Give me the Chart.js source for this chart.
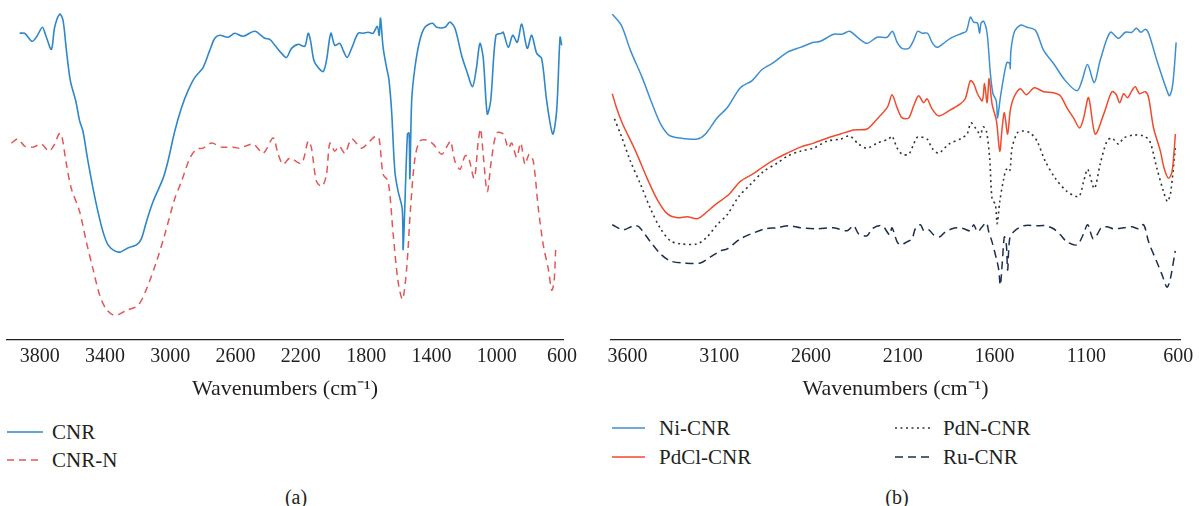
<!DOCTYPE html>
<html>
<head>
<meta charset="utf-8">
<script src="https://cdn.jsdelivr.net/npm/chart.js@4.4.1/dist/chart.umd.min.js"></script>
<style>
  body { margin: 0; background: #fff; width: 1199px; height: 506px; position: relative; overflow: hidden;
         font-family: 'Liberation Serif', 'Times New Roman', serif; color: #231f20; }
  .panel { position: absolute; top: 0; }
  .key { position: absolute; font-size: 21px; line-height: 24px; white-space: nowrap; }
  .key canvas { position: absolute; left: 0; top: 10px; }
  .key span { position: absolute; top: 0; }
  .caption { position: absolute; font-size: 20px; line-height: 24px; transform: translateX(-50%); }
</style>
</head>
<body>
<div class="panel" style="left:0; width:595px; height:402px"><canvas id="chartA"></canvas></div>
<div class="panel" style="left:598px; width:601px; height:402px"><canvas id="chartB"></canvas></div>
<div class="caption" style="left:296px; top:485px">(a)</div>
<div class="caption" style="left:897px; top:485px">(b)</div>

<script>
// ---- panel (a) ----
const ticksA = [3800, 3400, 3000, 2600, 2200, 1800, 1400, 1000, 600];

const cnrWavenumbers = [
  3923, 3892, 3847, 3817, 3783, 3763, 3728, 3708, 3677, 3657,
  3636, 3612, 3579, 3555, 3535, 3504, 3473, 3443, 3412, 3381,
  3340, 3305, 3259, 3207, 3177, 3146, 3105, 3044, 3014, 2972,
  2931, 2891, 2850, 2799, 2758, 2727, 2697, 2646, 2605, 2554,
  2482, 2421, 2390, 2359, 2318, 2288, 2257, 2217, 2176, 2155,
  2141, 2120, 2094, 2063, 2043, 2016, 1992, 1961, 1941, 1916,
  1889, 1849, 1818, 1788, 1757, 1732, 1720, 1712, 1696, 1675,
  1661, 1644, 1624, 1604, 1579, 1573, 1547, 1537, 1532, 1521,
  1501, 1471, 1440, 1393, 1368, 1317, 1287, 1256, 1215, 1185,
  1148, 1124, 1103, 1083, 1058, 1037, 1005, 970, 960, 929,
  902, 874, 847, 813, 786, 755, 725, 694, 657, 633,
  612, 602
];
const cnrValues = [
  304, 304, 296, 301, 310, 302, 288, 310, 323, 317,
  287, 257, 237, 217, 207, 177, 150, 127, 107, 94,
  88, 87, 91, 94, 100, 117, 137, 160, 177, 207,
  230, 247, 260, 270, 287, 299, 302, 300, 304, 301,
  306, 299, 298, 292, 284, 280, 289, 293, 291, 304,
  297, 277, 270, 266, 277, 304, 292, 294, 287, 280,
  289, 304, 304, 305, 304, 311, 302, 319, 290, 270,
  259, 227, 167, 147, 130, 90, 204, 205, 160, 237,
  270, 297, 310, 314, 310, 310, 315, 309, 282, 267,
  251, 270, 294, 280, 224, 237, 302, 304, 305, 290,
  302, 295, 313, 289, 302, 284, 279, 237, 204, 227,
  300, 292
];

const cnrNWavenumbers = [
  3973, 3933, 3892, 3841, 3790, 3743, 3708, 3682, 3667, 3636,
  3606, 3555, 3514, 3473, 3432, 3391, 3340, 3269, 3197, 3146,
  3085, 3034, 2972, 2931, 2880, 2839, 2799, 2747, 2686, 2615,
  2574, 2492, 2431, 2370, 2339, 2309, 2267, 2196, 2155, 2135,
  2104, 2070, 2043, 2022, 1992, 1965, 1930, 1889, 1828, 1777,
  1740, 1720, 1696, 1665, 1634, 1604, 1577, 1552, 1528, 1501,
  1471, 1430, 1389, 1338, 1297, 1282, 1256, 1225, 1195, 1175,
  1138, 1113, 1099, 1083, 1058, 1031, 1000, 960, 929, 908,
  878, 853, 827, 801, 776, 745, 715, 684, 663, 649,
  639
];
const cnrNValues = [
  195, 199, 192, 191, 194, 187, 194, 204, 204, 174,
  150, 127, 97, 70, 44, 30, 24, 29, 34, 50,
  77, 104, 140, 157, 180, 189, 190, 195, 191, 191,
  190, 194, 185, 200, 184, 174, 180, 175, 197, 190,
  157, 152, 164, 195, 187, 192, 185, 199, 190, 197,
  202, 199, 164, 157, 104, 57, 40, 70, 130, 180,
  197, 198, 194, 184, 194, 197, 177, 169, 182, 182,
  160, 197, 209, 184, 147, 180, 205, 204, 190, 195,
  181, 195, 174, 184, 177, 130, 94, 70, 49, 57,
  89
];

// ---- panel (b) ----
const ticksB = [3600, 3100, 2600, 2100, 1600, 1100, 600];

const niWavenumbers = [
  3683, 3634, 3584, 3520, 3466, 3420, 3375, 3311, 3220, 3175,
  3112, 3057, 2985, 2921, 2867, 2803, 2730, 2658, 2586, 2549,
  2477, 2431, 2390, 2341, 2295, 2240, 2186, 2157, 2131, 2104,
  2068, 2041, 2019, 1995, 1965, 1941, 1914, 1878, 1841, 1778,
  1754, 1732, 1714, 1693, 1682, 1674, 1660, 1641, 1623, 1609,
  1591, 1584, 1569, 1551, 1533, 1518, 1515, 1511, 1493, 1460,
  1424, 1378, 1333, 1279, 1215, 1151, 1124, 1094, 1057, 1025,
  970, 925, 888, 852, 828, 803, 779, 761, 716, 661,
  647, 629, 611
];
const niValues = [
  323, 312, 287, 260, 234, 214, 203, 200, 199, 204,
  220, 230, 250, 257, 268, 275, 285, 290, 295, 296,
  303, 303, 306, 299, 294, 300, 300, 306, 295, 289,
  289, 297, 306, 304, 304, 295, 290, 294, 299, 304,
  306, 320, 315, 314, 304, 314, 316, 304, 264, 244,
  237, 220, 240, 260, 275, 274, 269, 287, 305, 312,
  310, 307, 287, 274, 257, 247, 257, 273, 255, 277,
  305, 299, 305, 305, 309, 305, 308, 304, 277, 247,
  242, 254, 295
];

const pdclWavenumbers = [
  3683, 3660, 3629, 3556, 3493, 3438, 3384, 3329, 3275, 3220,
  3185, 3121, 3048, 2985, 2912, 2858, 2785, 2730, 2658, 2586,
  2495, 2440, 2368, 2295, 2240, 2183, 2159, 2131, 2104, 2068,
  2041, 2014, 1987, 1968, 1941, 1905, 1850, 1787, 1760, 1732,
  1714, 1693, 1667, 1655, 1641, 1630, 1614, 1590, 1572, 1559,
  1547, 1529, 1515, 1496, 1460, 1427, 1384, 1333, 1279, 1242,
  1206, 1170, 1137, 1115, 1088, 1052, 1005, 961, 937, 919,
  897, 876, 852, 834, 810, 779, 761, 734, 697, 675,
  652, 633, 615
];
const pdclValues = [
  244, 230, 215, 187, 160, 139, 125, 121, 122, 120,
  124, 134, 144, 157, 165, 172, 180, 185, 191, 195,
  201, 204, 208, 209, 219, 231, 243, 230, 220, 220,
  232, 242, 235, 239, 229, 222, 227, 234, 239, 257,
  254, 244, 237, 254, 235, 259, 234, 217, 187, 210,
  225, 204, 227, 240, 249, 243, 250, 246, 245, 242,
  230, 220, 210, 220, 240, 204, 224, 246, 243, 235,
  244, 240, 247, 251, 244, 246, 240, 210, 187, 169,
  160, 167, 204
];

const pdnWavenumbers = [
  3671, 3638, 3584, 3529, 3475, 3420, 3366, 3311, 3220, 3166,
  3112, 3057, 2994, 2930, 2858, 2785, 2730, 2658, 2586, 2513,
  2440, 2390, 2341, 2295, 2240, 2177, 2159, 2131, 2104, 2068,
  2041, 2019, 1968, 1941, 1905, 1850, 1778, 1750, 1729, 1705,
  1687, 1678, 1663, 1645, 1627, 1614, 1596, 1586, 1572, 1550,
  1536, 1518, 1505, 1477, 1450, 1406, 1369, 1324, 1269, 1205,
  1142, 1115, 1093, 1057, 1025, 988, 961, 925, 897, 843,
  788, 755, 716, 680, 658, 640, 616
];
const pdnValues = [
  219, 204, 177, 154, 130, 110, 98, 95, 95, 102,
  114, 124, 142, 154, 167, 175, 182, 187, 190, 197,
  199, 202, 194, 190, 195, 199, 202, 190, 184, 184,
  194, 201, 199, 190, 185, 194, 200, 204, 215, 210,
  205, 201, 211, 207, 180, 140, 134, 115, 137, 160,
  169, 167, 190, 205, 207, 205, 197, 177, 160, 147,
  142, 157, 169, 150, 174, 197, 200, 194, 200, 203,
  202, 197, 170, 147, 137, 147, 190
];

const ruWavenumbers = [
  3683, 3623, 3566, 3538, 3475, 3420, 3366, 3293, 3203, 3148,
  3094, 3057, 2985, 2912, 2849, 2785, 2722, 2658, 2567, 2477,
  2404, 2368, 2341, 2295, 2268, 2213, 2172, 2159, 2131, 2113,
  2077, 2050, 2032, 2004, 1986, 1959, 1932, 1899, 1868, 1832,
  1796, 1768, 1732, 1714, 1693, 1668, 1645, 1632, 1614, 1590,
  1578, 1569, 1558, 1547, 1536, 1529, 1518, 1496, 1442, 1369,
  1324, 1279, 1242, 1206, 1151, 1118, 1093, 1064, 1042, 1019,
  988, 952, 897, 852, 816, 788, 761, 716, 689, 661,
  643, 616
];
const ruValues = [
  114, 109, 113, 112, 97, 85, 78, 76, 76, 82,
  88, 90, 100, 106, 110, 111, 113, 111, 110, 111,
  108, 113, 105, 103, 110, 113, 104, 111, 97, 94,
  97, 100, 110, 114, 108, 109, 104, 102, 107, 110,
  111, 110, 108, 114, 107, 112, 116, 107, 97, 80,
  70, 54, 77, 102, 94, 69, 100, 107, 113, 113,
  113, 110, 104, 97, 94, 104, 114, 100, 104, 111,
  112, 110, 111, 112, 110, 114, 97, 77, 65, 52,
  60, 88
];

// zip wavenumbers and readings into {x, y} points
function points(xs, ys) {
  return xs.map((x, i) => ({ x: x, y: ys[i] }));
}

Chart.defaults.font.family = "'Liberation Serif', 'Times New Roman', serif";
Chart.defaults.color = '#231f20';

function makePanel(id, datasets, xMin, xMax, tickValues, padLeft, padRight) {
  return new Chart(document.getElementById(id), {
    type: 'line',
    data: { datasets: datasets },
    options: {
      responsive: true,
      maintainAspectRatio: false,
      animation: false,
      layout: { padding: { left: padLeft, right: padRight, top: 0, bottom: 0 } },
      elements: { point: { radius: 0 }, line: { tension: 0.3 } },
      plugins: { legend: { display: false }, tooltip: { enabled: false } },
      scales: {
        x: {
          type: 'linear',
          reverse: true,
          min: xMin,
          max: xMax,
          afterBuildTicks: (scale) => { scale.ticks = tickValues.map(v => ({ value: v })); },
          grid: { display: false, drawTicks: false },
          border: { display: true, color: '#231f20', width: 1.3 },
          ticks: { autoSkip: false, maxRotation: 0, padding: 5, font: { size: 20 }, callback: v => String(v) },
          title: { display: true, text: 'Wavenumbers (cm⁻¹)', font: { size: 22 }, padding: { top: 2, bottom: 0 } }
        },
        y: { display: false, min: 0, max: 337 }
      }
    }
  });
}

const chartA = makePanel('chartA', [
  { label: 'CNR', data: points(cnrWavenumbers, cnrValues), borderColor: '#2e87c8', borderWidth: 1.6 },
  { label: 'CNR-N', data: points(cnrNWavenumbers, cnrNValues), borderColor: '#e35656', borderWidth: 1.5, borderDash: [7, 5] }
], 594, 4000, ticksA, 7, 32);

const chartB = makePanel('chartB', [
  { label: 'Ni-CNR', data: points(niWavenumbers, niValues), borderColor: '#3d8fd1', borderWidth: 1.5 },
  { label: 'PdCl-CNR', data: points(pdclWavenumbers, pdclValues), borderColor: '#f04b2c', borderWidth: 1.5 },
  { label: 'PdN-CNR', data: points(pdnWavenumbers, pdnValues), borderColor: '#333333', borderWidth: 1.6, borderDash: [2, 3.5] },
  { label: 'Ru-CNR', data: points(ruWavenumbers, ruValues), borderColor: '#1d2f4f', borderWidth: 1.5, borderDash: [8, 5] }
], 590, 3690, ticksB, 13, 19);

// html legend, one slot per dataset: left edge, row centre, sample length, text offset
function buildLegend(chart, slots) {
  chart.data.datasets.forEach((ds, i) => {
    const s = slots[i];
    const item = document.createElement('div');
    item.className = 'key';
    item.style.left = s.x + 'px';
    item.style.top = (s.y - 12) + 'px';
    const sample = document.createElement('canvas');
    sample.width = s.w;
    sample.height = 4;
    const c = sample.getContext('2d');
    c.strokeStyle = ds.borderColor;
    c.lineWidth = ds.borderWidth;
    c.setLineDash(ds.borderDash || []);
    c.beginPath();
    c.moveTo(0, 2);
    c.lineTo(s.w, 2);
    c.stroke();
    const text = document.createElement('span');
    text.style.left = s.t + 'px';
    text.textContent = ds.label;
    item.appendChild(sample);
    item.appendChild(text);
    document.body.appendChild(item);
  });
}

buildLegend(chartA, [
  { x: 7, y: 432, w: 36, t: 45 },
  { x: 7, y: 460, w: 36, t: 45 }
]);
buildLegend(chartB, [
  { x: 612, y: 428, w: 33, t: 47 },
  { x: 612, y: 457, w: 33, t: 47 },
  { x: 895, y: 428, w: 35, t: 48 },
  { x: 895, y: 457, w: 35, t: 48 }
]);
</script>
</body>
</html>
